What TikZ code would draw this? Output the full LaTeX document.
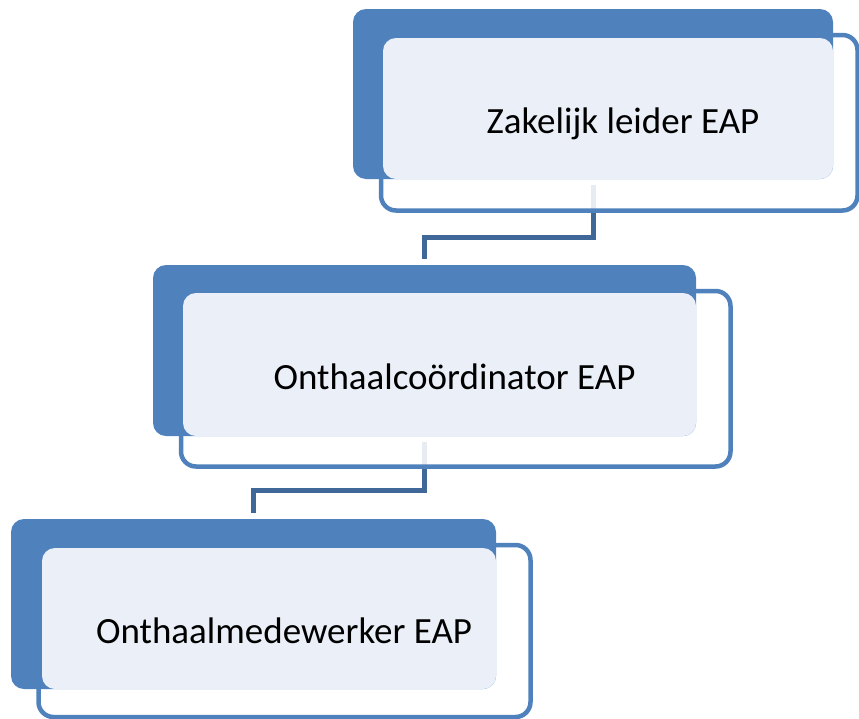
\documentclass[tikz,border=0pt]{standalone}
\usepackage{fontspec}
\setmainfont{Carlito}
\usetikzlibrary{calc}
\pgfdeclarelayer{background}
\pgfsetlayers{background,main}
\definecolor{accentblue}{HTML}{4F81BD}
\definecolor{facefill}{HTML}{EBF0F8}
\definecolor{linkblue}{HTML}{3F6899}
\begin{document}
\begin{tikzpicture}[x=1pt,y=-1pt,
  framebox/.style={draw=accentblue, line width=4.5pt, fill=white, fill opacity=0.88,
    rounded corners=15pt, inner sep=0pt, outer sep=0pt},
  backbox/.style={fill=accentblue, rounded corners=13pt, inner sep=0pt, outer sep=0pt},
  facebox/.style={fill=facefill, rounded corners=13pt, inner sep=0pt, outer sep=0pt},
  boxlabel/.style={anchor=base, inner sep=0pt, font=\fontsize{37}{44}\selectfont},
  conn/.style={draw=linkblue, line width=5pt}]
\useasboundingbox (0,0) rectangle (859,718);

% level 1
\node[framebox, minimum width=476.5pt, minimum height=175.5pt] (o1) at (619.25,122.75) {};
\node[backbox, minimum width=480pt, minimum height=170pt] (b1) at (593,94) {};
\node[facebox, minimum width=450pt, minimum height=141pt] (l1) at (608,108.5) {};
\node[boxlabel] (t1) at (623,133) {Zakelijk leider EAP};

% level 2
\node[framebox, minimum width=549.5pt, minimum height=175.5pt] (o2) at (455.75,378.75) {};
\node[backbox, minimum width=543pt, minimum height=171pt] (b2) at (424.5,350.5) {};
\node[facebox, minimum width=513pt, minimum height=143pt] (l2) at (439.5,364.5) {};
\node[boxlabel] (t2) at (454.5,389) {Onthaalcoördinator EAP};

% level 3
\node[framebox, minimum width=492pt, minimum height=172pt] (o3) at (284.5,631) {};
\node[backbox, minimum width=485pt, minimum height=170pt] (b3) at (253.5,604) {};
\node[facebox, minimum width=454pt, minimum height=141pt] (l3) at (269,618.5) {};
\node[boxlabel] (t3) at (284,643) {Onthaalmedewerker EAP};

% elbow connectors, behind the frames
\begin{pgfonlayer}{background}
\draw[conn] ([yshift=-6pt]b1.south) -- ++(0,52.5) -| ([yshift=6pt]b2.north);
\draw[conn] ([yshift=-6pt]b2.south) -- ++(0,48.5) -| ([yshift=6pt]b3.north);
\end{pgfonlayer}
\end{tikzpicture}
\end{document}
